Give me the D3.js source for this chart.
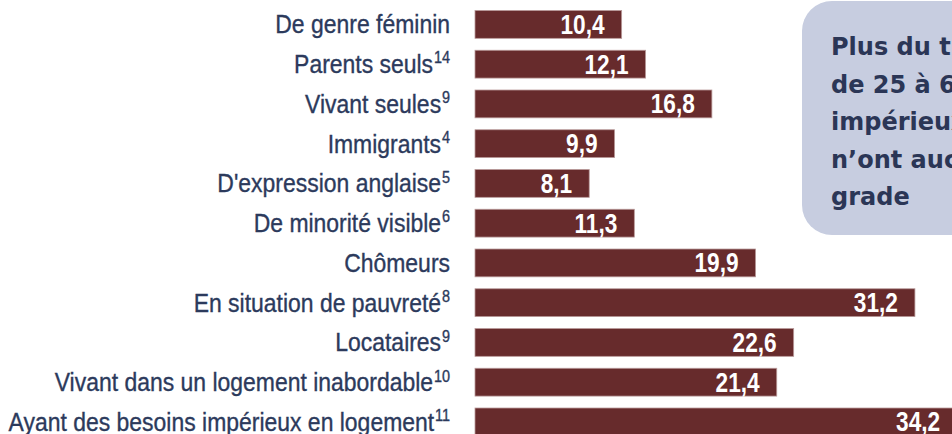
<!DOCTYPE html>
<html lang="fr">

<head>
  <meta charset="UTF-8">
  <title>Besoins impérieux en logement</title>
  <script src="https://d3js.org/d3.v7.min.js"></script>
  <style>
    html, body {
      margin: 0;
      padding: 0;
      background: #ffffff;
      overflow: hidden;
    }

    .cat-label {
      font-family: "Liberation Sans", Arial, sans-serif;
      font-size: 25.5px;
      fill: #2c3a5c;
      stroke: #2c3a5c;
      stroke-width: 0.35px;
    }

    .val-label {
      font-family: "Liberation Sans", Arial, sans-serif;
      font-weight: bold;
      font-size: 27px;
      fill: #ffffff;
    }

    .note-text {
      font-family: "DejaVu Sans", sans-serif;
      font-weight: bold;
      font-size: 24px;
      fill: #2b3656;
    }
  </style>
</head>

<body>
  <div id="chart"></div>

  <script>
    // Data
    const categories = [
      "De genre féminin",
      "Parents seuls",
      "Vivant seules",
      "Immigrants",
      "D'expression anglaise",
      "De minorité visible",
      "Chômeurs",
      "En situation de pauvreté",
      "Locataires",
      "Vivant dans un logement inabordable",
      "Ayant des besoins impérieux en logement"
    ];
    const notes = ["", "14", "9", "4", "5", "6", "", "8", "9", "10", "11"];
    const values = [10.4, 12.1, 16.8, 9.9, 8.1, 11.3, 19.9, 31.2, 22.6, 21.4, 34.2];
    const calloutLines = ["Plus du tiers", "de 25 à 64 ans", "impérieux", "n’ont aucun", "grade"];

    const width = 952;
    const height = 434;

    const svg = d3.select("#chart")
      .append("svg")
      .attr("width", width)
      .attr("height", height);

    const data = categories.map((c, i) => ({ cat: c, note: notes[i], value: values[i] }));

    // Scales
    const x = d3.scaleLinear()
      .domain([0, 35])
      .range([475, 968.5]);

    const y = d3.scaleBand()
      .domain(categories)
      .range([4.54, 441.8])
      .paddingInner(0.3)
      .paddingOuter(0.15);

    const fmt = v => d3.format(".1f")(v).replace(".", ",");

    // the source uses a condensed face; squeeze a regular one horizontally
    const labelSqueeze = 0.9;
    const valueSqueeze = 0.84;

    // Callout box
    const note = svg.append("g");
    note.append("rect")
      .attr("x", 802)
      .attr("y", 1)
      .attr("width", 220)
      .attr("height", 234)
      .attr("rx", 30)
      .attr("fill", "#c7cde0");

    note.selectAll("text")
      .data(calloutLines)
      .enter()
      .append("text")
      .attr("class", "note-text")
      .attr("x", 831)
      .attr("y", (d, i) => 55 + i * 37.5)
      .text(d => d);

    // Bars
    svg.selectAll(".bar")
      .data(data)
      .enter()
      .append("rect")
      .attr("class", "bar")
      .attr("x", x(0))
      .attr("y", d => y(d.cat))
      .attr("width", d => x(d.value) - x(0))
      .attr("height", y.bandwidth())
      .attr("fill", "#672b2c")
      .attr("stroke", "#b99a9a")
      .attr("stroke-width", 0.8);

    // Values inside the bars
    svg.selectAll(".val-label")
      .data(data)
      .enter()
      .append("text")
      .attr("class", "val-label")
      .attr("text-anchor", "end")
      .attr("transform", d =>
        `translate(${x(d.value) - 17},${y(d.cat) + y.bandwidth() / 2}) scale(${valueSqueeze},1)`)
      .attr("dy", "0.35em")
      .text(d => fmt(d.value));

    // Category labels with footnote numbers
    const labels = svg.selectAll(".cat-label")
      .data(data)
      .enter()
      .append("text")
      .attr("class", "cat-label")
      .attr("text-anchor", "end")
      .attr("transform", d =>
        `translate(450,${y(d.cat) + y.bandwidth() / 2}) scale(${labelSqueeze},1)`)
      .attr("dy", "0.35em");

    labels.append("tspan")
      .text(d => d.cat);

    labels.filter(d => d.note !== "")
      .append("tspan")
      .attr("font-size", "16px")
      .attr("dx", 1)
      .attr("dy", "-0.6em")
      .text(d => d.note);
  </script>
</body>

</html>
